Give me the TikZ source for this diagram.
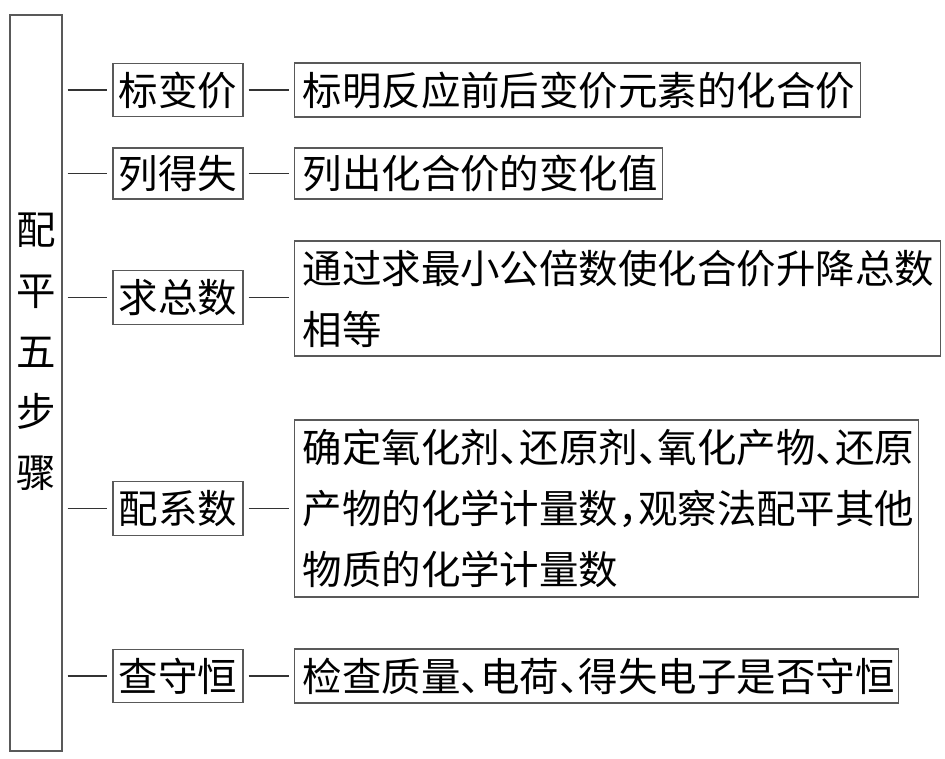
\documentclass[tikz,border=0pt]{standalone}
\usepackage{fontspec}
\newfontfamily\cjk{Noto Sans CJK SC}
\newcommand{\hdun}{\makebox[0.5em][l]{、}}
\newcommand{\hdou}{\makebox[0.5em][l]{，}}
\begin{document}
\begin{tikzpicture}[x=0.75pt,y=-0.75pt,
  frame/.style={draw=black!65, line width=0.9pt},
  txt/.style={font=\cjk\fontsize{29.6pt}{45.5pt}\selectfont},
  stepbox/.style={frame, txt, inner sep=0pt, minimum width=97.5pt, minimum height=40pt},
  infobox/.style={frame, txt, anchor=west, inner xsep=6pt, inner ysep=0pt, align=left},
  link/.style={draw=black!80, line width=0.8pt, shorten <=3.75pt, shorten >=3.75pt}]
\useasboundingbox (0,0) rectangle (945,759);
\node[frame, minimum width=39pt, minimum height=552pt, inner sep=0pt] (L) at (36,383) {};
\node[txt, align=center, inner sep=0pt] (Lt) at (36,352) {配\\平\\五\\步\\骤};

\node[stepbox] (S1) at (178,90) {标变价};
\node[stepbox, minimum height=38.25pt] (S2) at (178,173.5) {列得失};
\node[stepbox, minimum height=41pt] (S3) at (178,297.5) {求总数};
\node[stepbox] (S4) at (178,508.5) {配系数};
\node[stepbox] (S5) at (178,676) {查守恒};

\node[infobox, text width=412.5pt, minimum height=40.5pt] (R1) at (294,90) {标明反应前后变价元素的化合价};
\node[infobox, text width=264pt, minimum height=38.25pt] (R2) at (294,173.5) {列出化合价的变化值};
\node[infobox, text width=472.5pt, minimum height=86.25pt] (R3) at (294,298.5) {通过求最小公倍数使化合价升降总数\\相等};
\node[infobox, text width=456pt, minimum height=132.75pt] (R4) at (294,508.5) {确定氧化剂\hdun 还原剂\hdun 氧化产物\hdun 还原\\产物的化学计量数\hdou 观察法配平其他\\物质的化学计量数};
\node[infobox, text width=441pt, minimum height=40.5pt] (R5) at (294,676) {检查质量\hdun 电荷\hdun 得失电子是否守恒};

\foreach \i in {1,...,5} {
  \draw[link] (L.east |- S\i.west) -- (S\i.west);
  \draw[link] (S\i.east) -- (S\i.east -| R\i.west);
}
\end{tikzpicture}
\end{document}
